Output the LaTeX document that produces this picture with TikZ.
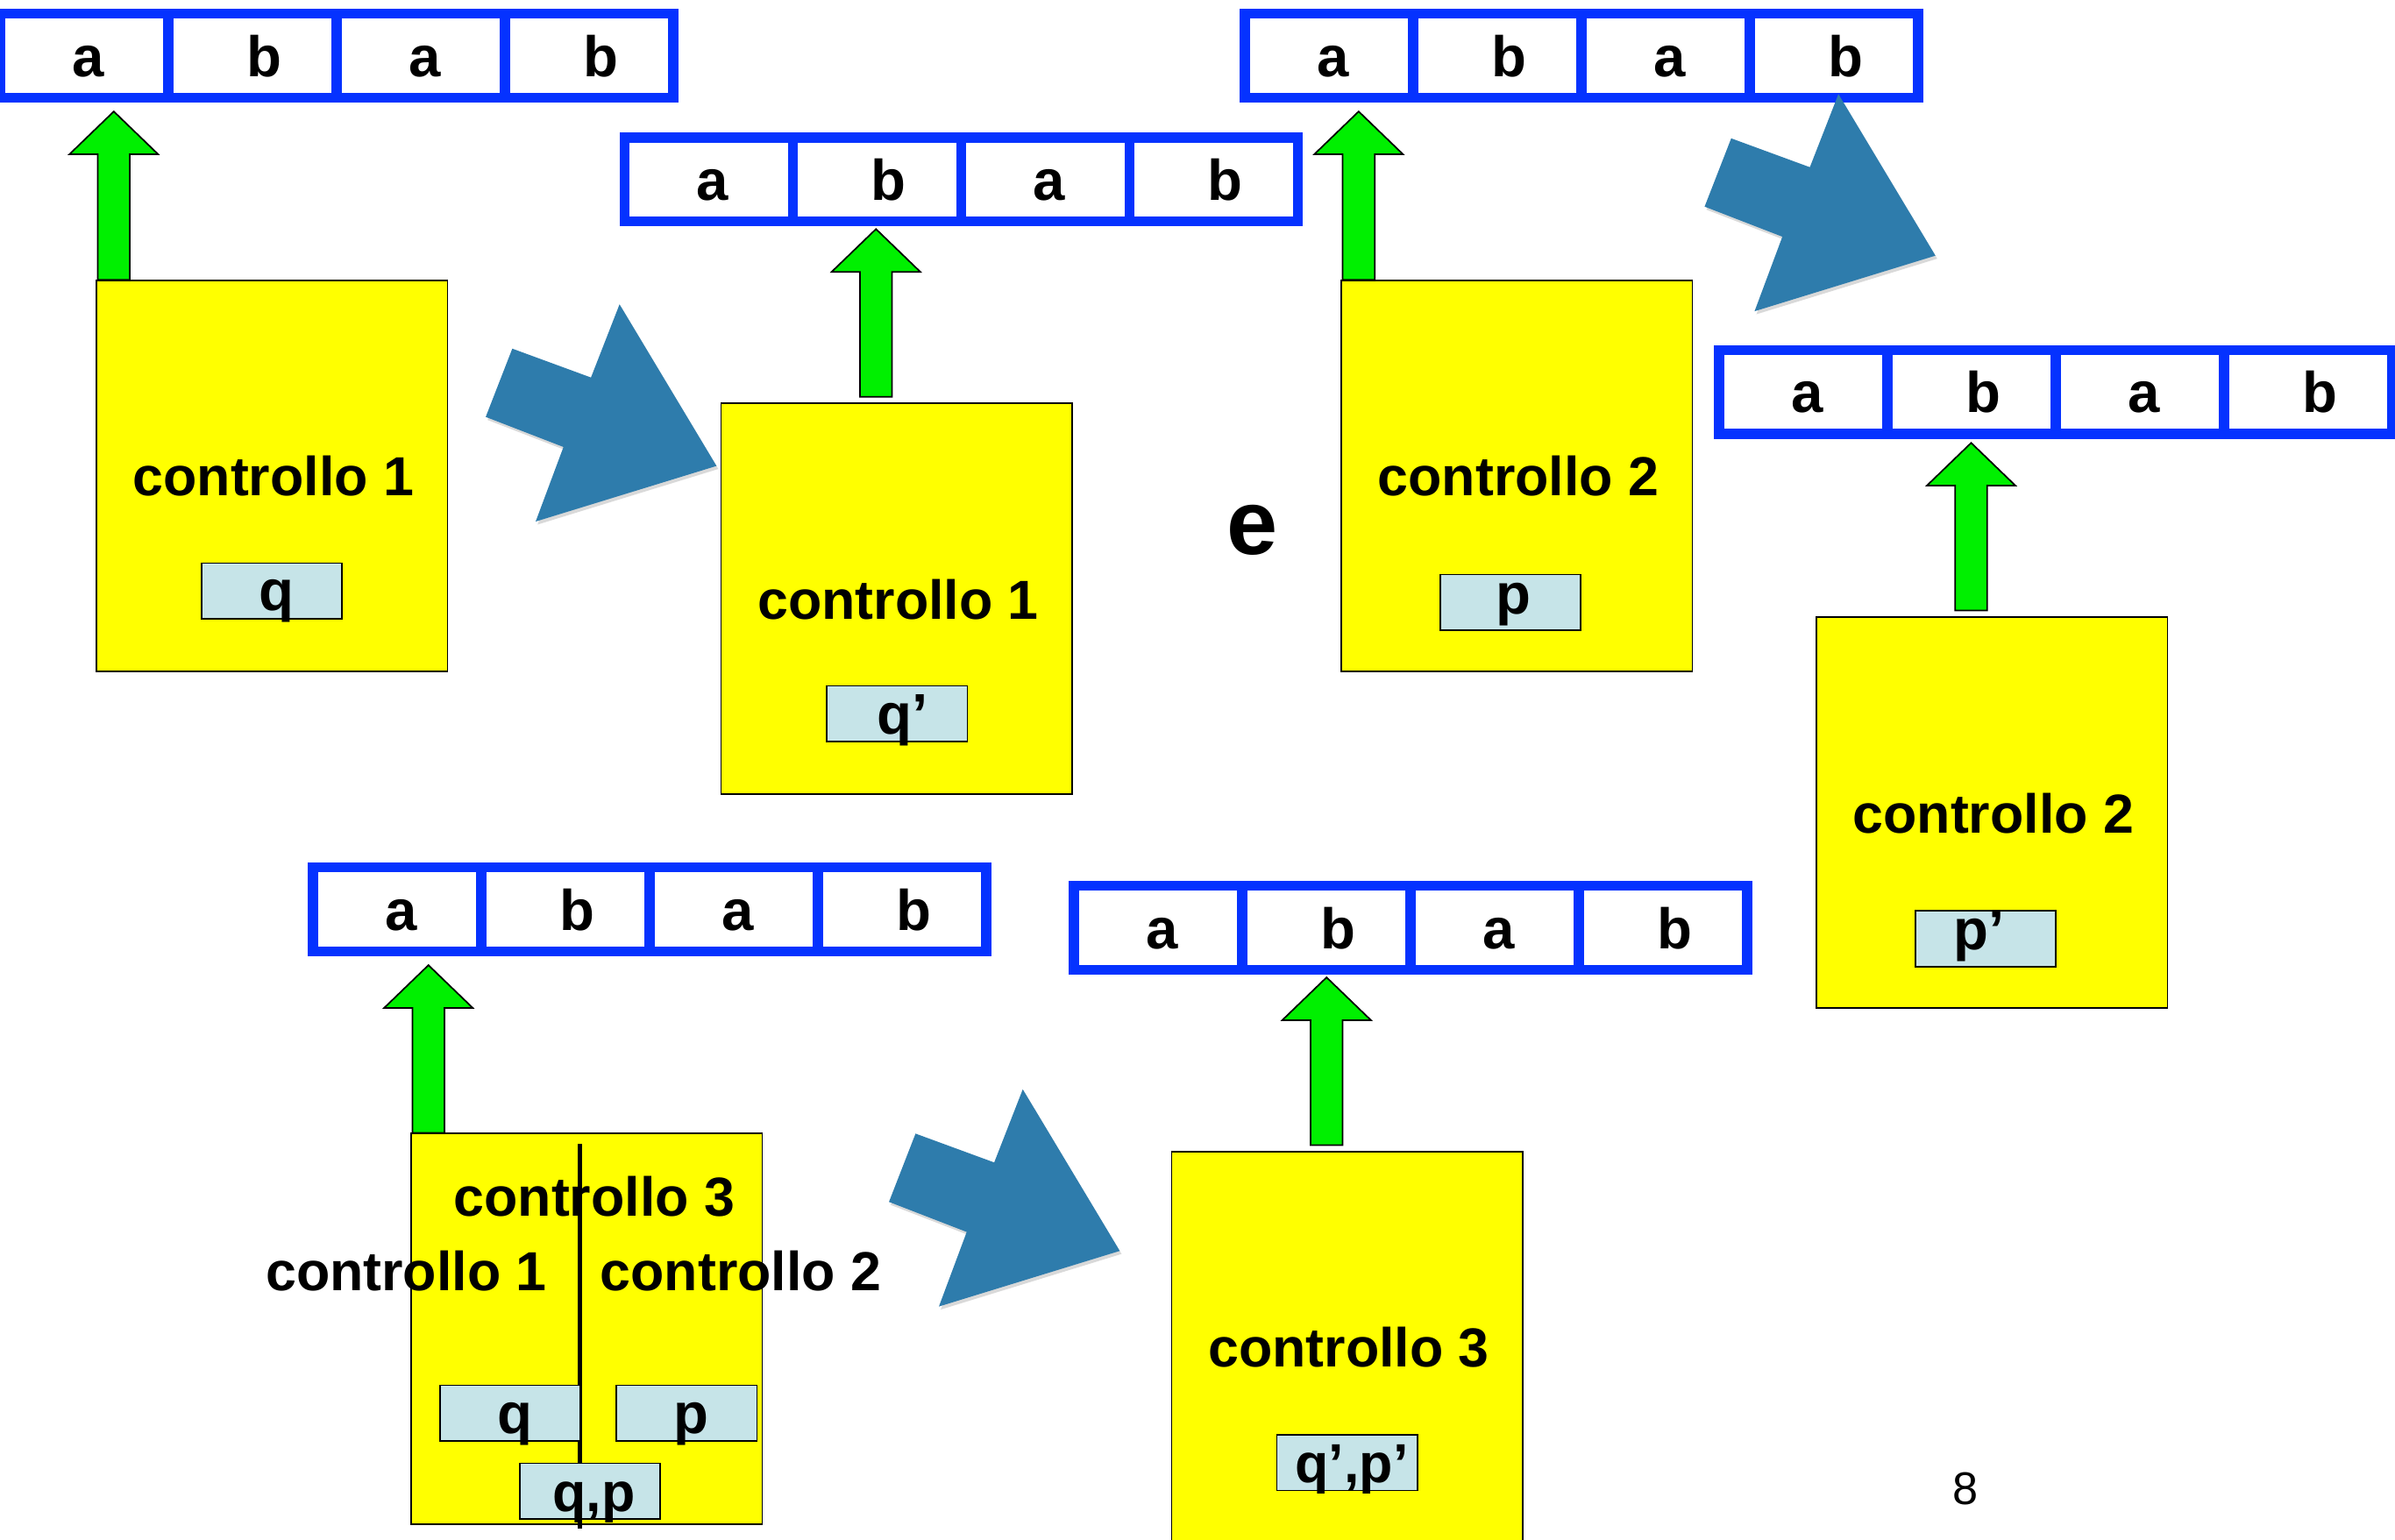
\documentclass[tikz,border=0pt]{standalone}
\usepackage{fontspec}
\setmainfont{Liberation Sans}
\usetikzlibrary{calc}
\definecolor{tapeblue}{RGB}{5,50,255}
\definecolor{boxyellow}{RGB}{255,255,0}
\definecolor{regblue}{RGB}{198,228,232}
\definecolor{arrowgreen}{RGB}{0,240,0}
\definecolor{bigblue}{RGB}{46,124,172}
\newcommand\bigfont{\fontsize{37.5}{42}\selectfont\bfseries}
\newcommand\lblfont{\fontsize{36}{40}\selectfont\bfseries}
\tikzset{
 cell/.style={draw=tapeblue, line width=6.6pt, minimum width=110.2pt, minimum height=55pt, inner sep=0pt, outer sep=0pt, text height=27pt, text depth=0pt, font=\bigfont},
 ctrl/.style={draw=black, line width=1pt, fill=boxyellow, minimum width=230pt, minimum height=256pt, inner sep=0pt, text height=26.5pt, text depth=0pt, font=\lblfont},
 reg/.style={draw=black, line width=1pt, fill=regblue, minimum width=92pt, minimum height=36.5pt, inner sep=0pt, text height=26pt, text depth=0pt, font=\bigfont},
 reghigh/.style={text height=15pt},
 regsmall/.style={font=\lblfont},
 lbl/.style={inner sep=0pt, font=\lblfont},
 gup/.style={fill=arrowgreen, draw=black, line width=1pt, line join=miter},
 bigarrow/.style={fill=bigblue},
 bigshadow/.style={fill=black, opacity=0.15},
 divider/.style={draw=black, line width=3pt},
 boxpos/.style={minimum width=230pt, minimum height=256pt, inner sep=0pt},
}
\newcommand\tapeat[3]{%
  \foreach \l/\s [count=\i from 0] in {a/2.5,b/7.5,a/2.5,b/7.5}{%
    \node[cell] (#1-\i) at ({#2+55.1+110.2*\i},#3) {\kern\s pt\kern\s pt\l};
  }%
}
\newcommand\garrow[2]{%
  \draw[gup] ($(#1)+(-10.5,0)$) -- ($(#2)+(-10.5,28)$) -- ($(#2)+(-29,28)$) -- (#2)
    -- ($(#2)+(29,28)$) -- ($(#2)+(10.5,28)$) -- ($(#1)+(10.5,0)$) -- cycle;
}
\newcommand\bigarrowpath{(17.4,29.3) -- (68.9,48.2) -- (87.6,0.3) -- (151.1,106.1) -- (32.7,142.5) -- (50.9,93.7) -- (0,74) -- cycle}
\newcommand\bigarrowat[2]{%
  \begin{scope}[shift={(#1,#2)}]
    \fill[bigshadow, shift={(1.2,2)}] \bigarrowpath;
    \fill[bigarrow] \bigarrowpath;
  \end{scope}%
}
\begin{document}
\begin{tikzpicture}[x=1pt,y=-1pt]
\useasboundingbox (0,0) rectangle (1568,1008);
\clip (0,0) rectangle (1568,1008);
\fill[white] (0,0) rectangle (1568,1008);

% tapes
\tapeat{T1}{0}{36.5}
\tapeat{T2}{409}{117.5}
\tapeat{T3}{815}{36.5}
\tapeat{T4}{1125.5}{256.7}
\tapeat{T5}{205}{595.5}
\tapeat{T6}{703}{607.5}

% big blue arrows
\bigarrowat{318}{199}
\bigarrowat{1116}{61.3}
\bigarrowat{582}{713}

% box positions (needed for arrow bases)
\path (178,311.5) node[boxpos] (P1) {};
\path (587,392) node[boxpos] (P2) {};
\path (993,311.5) node[boxpos] (P3) {};
\path (1304,532) node[boxpos] (P4) {};
\path (384,870) node[boxpos] (P5) {};
\path (882,882) node[boxpos] (P6) {};

% green arrows
\coordinate (g1t) at (74.5,73);
\coordinate (g1b) at (g1t |- P1.north);
\coordinate (g2t) at (573.5,150);
\coordinate (g2b) at ($(g2t |- P2.north)+(0,-4)$);
\coordinate (g3t) at (889.5,73);
\coordinate (g3b) at (g3t |- P3.north);
\coordinate (g4t) at (1290.5,290);
\coordinate (g4b) at ($(g4t |- P4.north)+(0,-4)$);
\coordinate (g5t) at (280.5,632);
\coordinate (g5b) at (g5t |- P5.north);
\coordinate (g6t) at (868.5,640);
\coordinate (g6b) at ($(g6t |- P6.north)+(0,-4)$);
\garrow{g1b}{g1t}
\garrow{g2b}{g2t}
\garrow{g3b}{g3t}
\garrow{g4b}{g4t}
\garrow{g5b}{g5t}
\garrow{g6b}{g6t}

% control boxes
\node[ctrl] (B1) at (P1) {\kern1pt\kern1pt controllo 1};
\node[ctrl] (B2) at (P2) {\kern1pt\kern1pt controllo 1};
\node[ctrl] (B3) at (P3) {\kern1pt\kern1pt controllo 2};
\node[ctrl] (B4) at (P4) {\kern1pt\kern1pt controllo 2};
\node[ctrl] (B5) at (P5) {};
\node[ctrl] (B6) at (P6) {\kern1pt\kern1pt controllo 3};

% registers
\node[reg] (R1) at (178,387) {\kern3pt\kern3pt q};
\node[reg] (R2) at (587.4,467.4) {\kern3.5pt\kern3.5pt q’};
\node[reg, reghigh] (R3) at (989,394.5) {\kern2pt\kern2pt p};
\node[reg, reghigh] (R4) at (1300,614.6) {p’\kern4.5pt\kern4.5pt};
\node[reg, regsmall] (R6) at (882,957.7) {\kern3pt\kern3pt q’,p’};

% composite control 3
\draw[divider] (379.5,749) -- (379.5,1001);
\node[reg] (R5a) at (334,925.4) {\kern3pt\kern3pt q};
\node[reg] (R5b) at (449.6,925.4) {\kern3pt\kern3pt p};
\node[reg, regsmall] (R5c) at (386.3,976.5) {\kern2.5pt\kern2.5pt q,p};
\node[lbl] (L3) at (389,783.5) {controllo 3};
\node[lbl] (L1) at (266,832.5) {controllo 1};
\node[lbl] (L2) at (485,832.5) {controllo 2};

% misc
\node[lbl, font=\fontsize{60}{66}\selectfont\bfseries] (E) at (820,347) {e};
\node[inner sep=0pt, font=\fontsize{30}{34}\selectfont] (PG) at (1287,975) {8};
\end{tikzpicture}
\end{document}
